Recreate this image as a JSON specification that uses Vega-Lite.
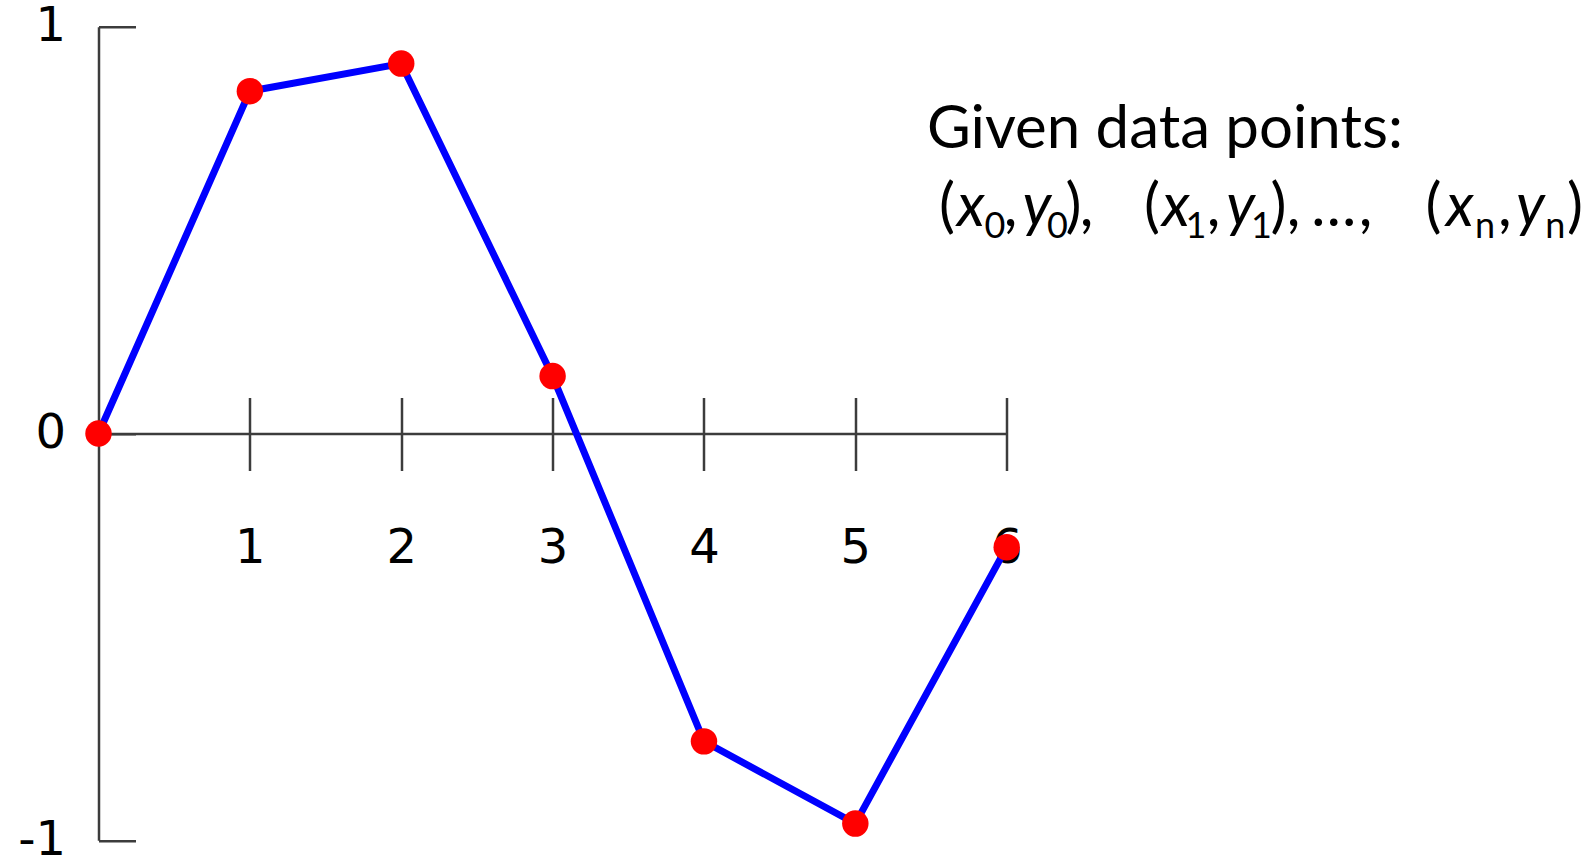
{
  "$schema": "https://vega.github.io/schema/vega-lite/v6.json",
  "width": 908.2,
  "height": 813.6,
  "autosize": {"type": "none"},
  "padding": {"left": 98.5, "top": 26.7, "right": 588.3, "bottom": 22.7},
  "background": "white",
  "config": {"view": {"stroke": null}, "axis": {"grid": false}},
  "datasets": {
    "points": [
      {"x": 0, "y": 0},
      {"x": 1, "y": 0.8415},
      {"x": 2, "y": 0.9093},
      {"x": 3, "y": 0.1411},
      {"x": 4, "y": -0.7568},
      {"x": 5, "y": -0.9589},
      {"x": 6, "y": -0.2794}
    ],
    "caption": [
      {"part": "title", "text": "Given data points:", "x": 5.4733, "y": 0.7018},
      {"part": "punct", "text": "(", "x": 5.6055, "y": 0.5113},
      {"part": "var", "text": "x", "x": 5.764, "y": 0.5113},
      {"part": "index", "text": "0", "x": 5.9226, "y": 0.4806},
      {"part": "punct", "text": ",", "x": 6.025, "y": 0.5113},
      {"part": "var", "text": "y", "x": 6.2, "y": 0.5113},
      {"part": "index", "text": "0", "x": 6.335, "y": 0.4806},
      {"part": "punct", "text": ")", "x": 6.4413, "y": 0.5113},
      {"part": "punct", "text": ",", "x": 6.5272, "y": 0.5113},
      {"part": "punct", "text": "(", "x": 6.9598, "y": 0.5113},
      {"part": "var", "text": "x", "x": 7.1183, "y": 0.5113},
      {"part": "index", "text": "1", "x": 7.2505, "y": 0.4806},
      {"part": "punct", "text": ",", "x": 7.366, "y": 0.5113},
      {"part": "var", "text": "y", "x": 7.545, "y": 0.5113},
      {"part": "index", "text": "1", "x": 7.683, "y": 0.4806},
      {"part": "punct", "text": ")", "x": 7.7955, "y": 0.5113},
      {"part": "punct", "text": ",", "x": 7.8947, "y": 0.5113},
      {"part": "punct", "text": "…", "x": 8.16, "y": 0.5113},
      {"part": "punct", "text": ",", "x": 8.37, "y": 0.5113},
      {"part": "punct", "text": "(", "x": 8.82, "y": 0.5113},
      {"part": "var", "text": "x", "x": 8.995, "y": 0.5113},
      {"part": "index", "text": "n", "x": 9.16, "y": 0.4806},
      {"part": "punct", "text": ",", "x": 9.29, "y": 0.5113},
      {"part": "var", "text": "y", "x": 9.46, "y": 0.5113},
      {"part": "index", "text": "n", "x": 9.625, "y": 0.4806},
      {"part": "punct", "text": ")", "x": 9.754, "y": 0.5113}
    ]
  },
  "layer": [
    {
      "data": {"name": "points"},
      "mark": {"type": "line", "color": "#0000ff", "strokeWidth": 7},
      "encoding": {
        "x": {
          "field": "x", "type": "quantitative",
          "scale": {"domain": [0, 6], "nice": false, "zero": false},
          "axis": {
            "orient": "bottom", "offset": -406.8, "values": [1, 2, 3, 4, 5, 6], "labelExpr": "'' + datum.value",
            "title": null, "tickSize": 37, "tickWidth": 2.5, "tickColor": "#3c3c3c",
            "domainColor": "#3c3c3c", "domainWidth": 2.5,
            "labelFont": "DejaVu Sans", "labelFontSize": 48, "labelColor": "#000000",
            "labelPadding": 54, "labelFlush": false, "labelOverlap": false, "labelBound": false
          }
        },
        "y": {
          "field": "y", "type": "quantitative",
          "scale": {"domain": [-1, 1], "nice": false, "zero": false},
          "axis": {
            "orient": "left", "values": [-1, 0, 1], "labelExpr": "'' + datum.value", "title": null,
            "ticks": false, "tickSize": 0,
            "domainColor": "#3c3c3c", "domainWidth": 2.5,
            "labelFont": "DejaVu Sans", "labelFontSize": 48, "labelColor": "#000000",
            "labelPadding": 33, "labelFlush": false, "labelOverlap": false, "labelBound": false
          }
        }
      }
    },
    {
      "data": {"name": "points"},
      "mark": {"type": "point", "shape": "circle", "filled": true, "color": "#ff0000", "opacity": 1, "size": 700},
      "encoding": {
        "x": {
          "field": "x", "type": "quantitative",
          "scale": {"domain": [0, 6], "nice": false, "zero": false},
          "axis": {
            "orient": "top", "offset": -406.8, "values": [1, 2, 3, 4, 5, 6],
            "title": null, "tickSize": 36, "tickWidth": 2.5, "tickColor": "#3c3c3c",
            "domain": false, "labels": false
          }
        },
        "y": {
          "field": "y", "type": "quantitative",
          "scale": {"domain": [-1, 1], "nice": false, "zero": false},
          "axis": {
            "orient": "right", "offset": -908.2, "values": [-1, 0, 1], "title": null,
            "tickSize": 37, "tickWidth": 2.5, "tickColor": "#3c3c3c",
            "domain": false, "labels": false
          }
        }
      }
    },
    {
      "data": {"name": "caption"},
      "transform": [{"filter": "datum.part === 'title'"}],
      "mark": {"type": "text", "font": "Lato", "fontSize": 60, "align": "left", "baseline": "alphabetic", "color": "#000000"},
      "encoding": {
        "x": {"field": "x", "type": "quantitative", "axis": null},
        "y": {"field": "y", "type": "quantitative", "axis": null},
        "text": {"field": "text"}
      }
    },
    {
      "data": {"name": "caption"},
      "transform": [{"filter": "datum.part === 'punct'"}],
      "mark": {"type": "text", "font": "Lato", "fontSize": 60, "align": "center", "baseline": "alphabetic", "color": "#000000"},
      "encoding": {
        "x": {"field": "x", "type": "quantitative", "axis": null},
        "y": {"field": "y", "type": "quantitative", "axis": null},
        "text": {"field": "text"}
      }
    },
    {
      "data": {"name": "caption"},
      "transform": [{"filter": "datum.part === 'var'"}],
      "mark": {"type": "text", "font": "Lato", "fontSize": 60, "fontStyle": "italic", "align": "center", "baseline": "alphabetic", "color": "#000000"},
      "encoding": {
        "x": {"field": "x", "type": "quantitative", "axis": null},
        "y": {"field": "y", "type": "quantitative", "axis": null},
        "text": {"field": "text"}
      }
    },
    {
      "data": {"name": "caption"},
      "transform": [{"filter": "datum.part === 'index'"}],
      "mark": {"type": "text", "font": "Lato", "fontSize": 36, "align": "center", "baseline": "alphabetic", "color": "#000000"},
      "encoding": {
        "x": {"field": "x", "type": "quantitative", "axis": null},
        "y": {"field": "y", "type": "quantitative", "axis": null},
        "text": {"field": "text"}
      }
    }
  ],
  "resolve": {"axis": {"x": "independent", "y": "independent"}}
}
